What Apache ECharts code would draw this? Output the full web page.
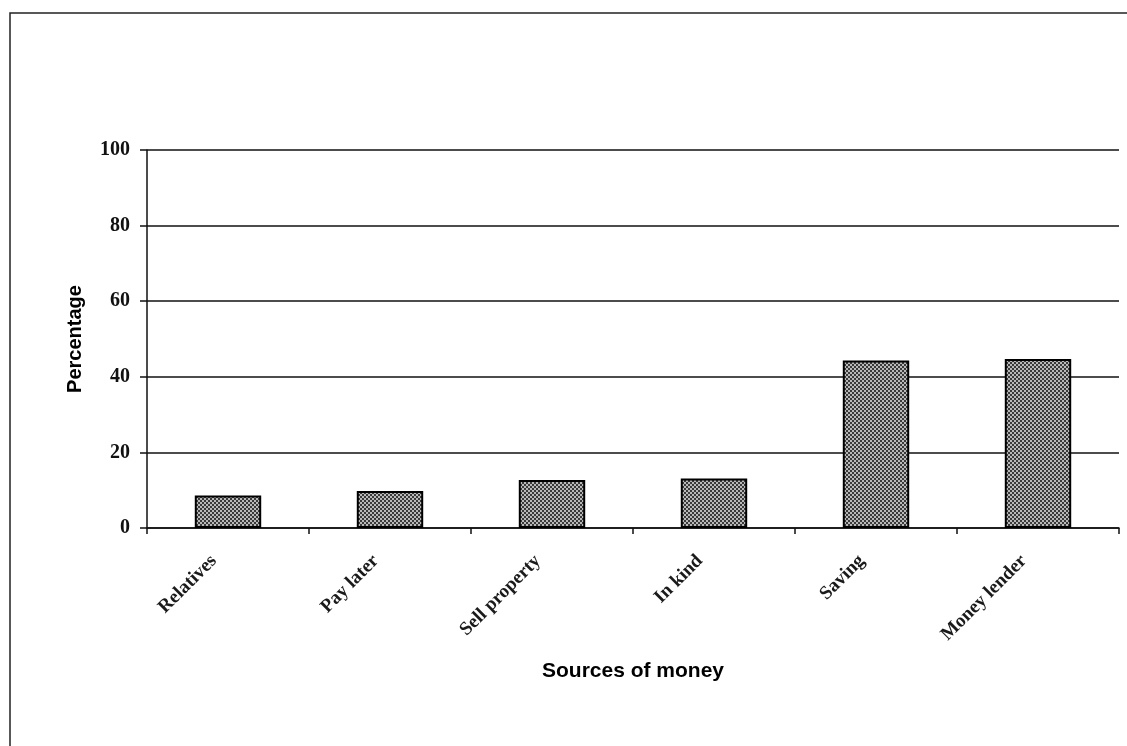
<!DOCTYPE html>
<html>
<head>
<meta charset="utf-8">
<script src="https://cdn.jsdelivr.net/npm/echarts@6/dist/echarts.min.js"></script>
<style>
  html, body { margin: 0; padding: 0; background: #fff; }
  #chart { width: 1127px; height: 746px; }
</style>
</head>
<body>
<div id="chart"></div>
<script>
  // data
  const categories = ['Relatives', 'Pay later', 'Sell property', 'In kind', 'Saving', 'Money lender'];
  const percentages = [8.6, 9.8, 12.7, 13.1, 44.3, 44.7];
  const yTicks = [0, 20, 40, 60, 80, 100];

  // small checker pattern like the printed hatch fill
  function makeHatch() {
    const c = document.createElement('canvas');
    c.width = 4; c.height = 4;
    const ctx = c.getContext('2d');
    ctx.fillStyle = '#b8b8b8';
    ctx.fillRect(0, 0, 4, 4);
    ctx.fillStyle = '#3a3a3a';
    ctx.fillRect(0, 0, 2, 2);
    ctx.fillRect(2, 2, 2, 2);
    return c;
  }

  const myChart = echarts.init(document.getElementById('chart'));

  const option = {
    animation: false,
    backgroundColor: '#fff',
    graphic: [{
      type: 'rect',
      shape: { x: 10, y: 13, width: 1140, height: 760 },
      style: { fill: 'none', stroke: '#222', lineWidth: 1.5 }
    }],
    grid: {
      left: 147,
      right: 8,
      top: 150,
      bottom: 218
    },
    xAxis: {
      type: 'category',
      data: categories,
      name: 'Sources of money',
      nameLocation: 'middle',
      nameGap: 133,
      nameTextStyle: {
        fontFamily: 'Liberation Sans',
        fontWeight: 'bold',
        fontSize: 21,
        color: '#000'
      },
      axisLine: { lineStyle: { color: '#111', width: 1.5 } },
      axisTick: { show: true, alignWithLabel: false, length: 6, lineStyle: { color: '#111', width: 1.5 } },
      axisLabel: {
        rotate: 45,
        margin: 16,
        padding: [0, 20, 0, 0],
        fontFamily: 'Liberation Serif',
        fontWeight: 'bold',
        fontSize: 19,
        color: '#1a1a1a'
      }
    },
    yAxis: {
      type: 'value',
      min: 0,
      max: 100,
      interval: 20,
      name: 'Percentage',
      nameLocation: 'middle',
      nameGap: 62,
      nameTextStyle: {
        fontFamily: 'Liberation Sans',
        fontWeight: 'bold',
        fontSize: 20,
        color: '#000'
      },
      axisLine: { show: true, lineStyle: { color: '#111', width: 1.5 } },
      axisTick: { show: true, length: 7, lineStyle: { color: '#111', width: 1.5 } },
      axisLabel: {
        margin: 17,
        fontFamily: 'Liberation Serif',
        fontWeight: 'bold',
        fontSize: 20,
        color: '#111',
        formatter: function (v) { return yTicks.indexOf(v) >= 0 ? String(v) : ''; }
      },
      splitLine: { lineStyle: { color: '#111', width: 1.5 } }
    },
    series: [{
      type: 'bar',
      data: percentages,
      barWidth: '41%',
      itemStyle: {
        color: { image: makeHatch(), repeat: 'repeat' },
        borderColor: '#000',
        borderWidth: 2
      }
    }]
  };

  myChart.setOption(option);
</script>
</body>
</html>
